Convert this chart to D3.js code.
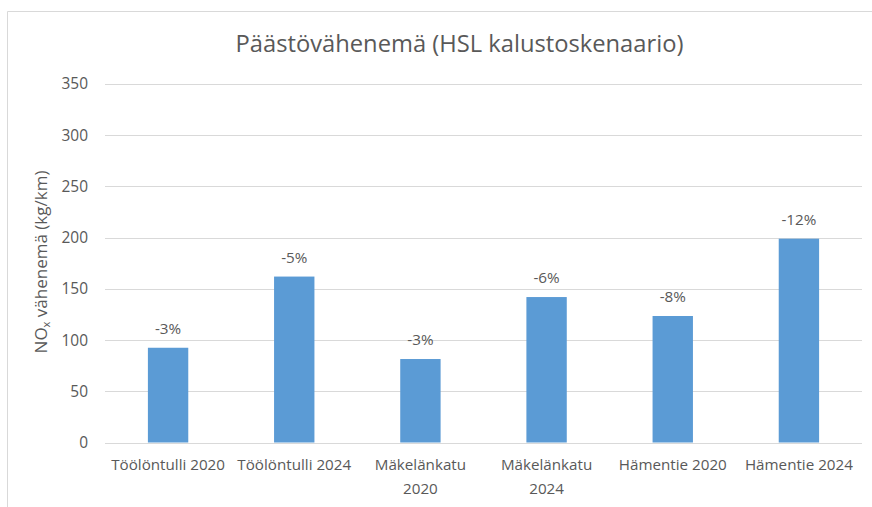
<!DOCTYPE html>
<html>
<head>
<meta charset="utf-8">
<script src="https://cdn.jsdelivr.net/npm/d3@7"></script>
<style>
  html, body { margin: 0; padding: 0; background: #fff; }
  svg { display: block; font-family: "Open Sans", "Noto Sans", sans-serif; }
</style>
</head>
<body>
<svg id="chart" width="872" height="507"></svg>
<script>
const categories = [["Töölöntulli 2020"], ["Töölöntulli 2024"], ["Mäkelänkatu", "2020"], ["Mäkelänkatu", "2024"], ["Hämentie 2020"], ["Hämentie 2024"]];
const values = [92.5, 162, 81.5, 142, 123.5, 199];
const pctLabels = ["-3%", "-5%", "-3%", "-6%", "-8%", "-12%"];
const yTicks = [0, 50, 100, 150, 200, 250, 300, 350];
const title = "Päästövähenemä (HSL kalustoskenaario)";
const yTitle = ["NO", "x", " vähenemä (kg/km)"];

const svg = d3.select("#chart");
const W = 872, H = 507;
const plot = { left: 105, right: 862, top: 84, bottom: 442.5 };
const textColor = "#595959";

// measure font size that gives a target width
function fitSize(text, targetWidth, base) {
  const t = svg.append("text").attr("font-size", base).text(text);
  const w = t.node().getComputedTextLength();
  t.remove();
  return base * targetWidth / w;
}
const tickFs = fitSize("350", 26.5, 14);
const catFs = fitSize("Töölöntulli 2020", 114, 14);
const lblFs = fitSize("-12%", 35, 14);
const titleFs = fitSize(title, 448, 20);
const yTitleFs = fitSize(yTitle.join(""), 186, 14);

// chart area border (left and top visible)
svg.append("path")
  .attr("d", `M7.5,${H} L7.5,11.5 L${W},11.5`)
  .attr("fill", "none").attr("stroke", "#d9d9d9").attr("stroke-width", 1);

const x = d3.scaleBand().domain(d3.range(categories.length)).range([plot.left, plot.right]).paddingInner(0.68).paddingOuter(0.34);
const y = d3.scaleLinear().domain([0, 350]).range([plot.bottom, plot.top]);

// gridlines
svg.append("g").selectAll("line").data(yTicks).join("line")
  .attr("x1", plot.left).attr("x2", plot.right)
  .attr("y1", d => Math.round(y(d)) + 0.5).attr("y2", d => Math.round(y(d)) + 0.5)
  .attr("stroke", "#d9d9d9").attr("stroke-width", 1);

// y axis tick labels
const yAxis = d3.axisLeft(y).tickValues(yTicks).tickSize(0).tickPadding(0);
const ga = svg.append("g").attr("transform", `translate(88,0)`).call(yAxis);
ga.select(".domain").remove();
ga.attr("font-family", null).attr("font-size", null);
ga.selectAll("text").attr("fill", textColor).attr("font-size", tickFs);

// bars
svg.append("g").selectAll("rect").data(values).join("rect")
  .attr("x", (d, i) => x(i)).attr("width", x.bandwidth())
  .attr("y", d => y(d)).attr("height", d => y(0) - y(d))
  .attr("fill", "#5b9bd5");

// data labels
svg.append("g").selectAll("text").data(values).join("text")
  .attr("x", (d, i) => x(i) + x.bandwidth() / 2)
  .attr("y", d => y(d) - 14)
  .attr("text-anchor", "middle").attr("fill", textColor).attr("font-size", lblFs)
  .text((d, i) => pctLabels[i]);

// category labels
const xl = svg.append("g").selectAll("text").data(categories).join("text")
  .attr("x", (d, i) => x(i) + x.bandwidth() / 2)
  .attr("y", 470)
  .attr("text-anchor", "middle").attr("fill", textColor).attr("font-size", catFs);
xl.selectAll("tspan").data(d => d).join("tspan")
  .attr("x", function () { return d3.select(this.parentNode).attr("x"); })
  .attr("dy", (d, j) => j === 0 ? 0 : 24)
  .text(d => d);

// title
svg.append("text")
  .attr("x", 459.5).attr("y", 52)
  .attr("text-anchor", "middle").attr("fill", textColor).attr("font-size", titleFs)
  .text(title);

// y axis title
const yt = svg.append("text")
  .attr("transform", `translate(47,262) rotate(-90)`)
  .attr("text-anchor", "middle").attr("fill", textColor).attr("font-size", yTitleFs);
yt.append("tspan").text(yTitle[0]);
yt.append("tspan").attr("font-size", yTitleFs * 0.65).attr("dy", 3).text(yTitle[1]);
yt.append("tspan").attr("dy", -3).text(yTitle[2]);
</script>
</body>
</html>
